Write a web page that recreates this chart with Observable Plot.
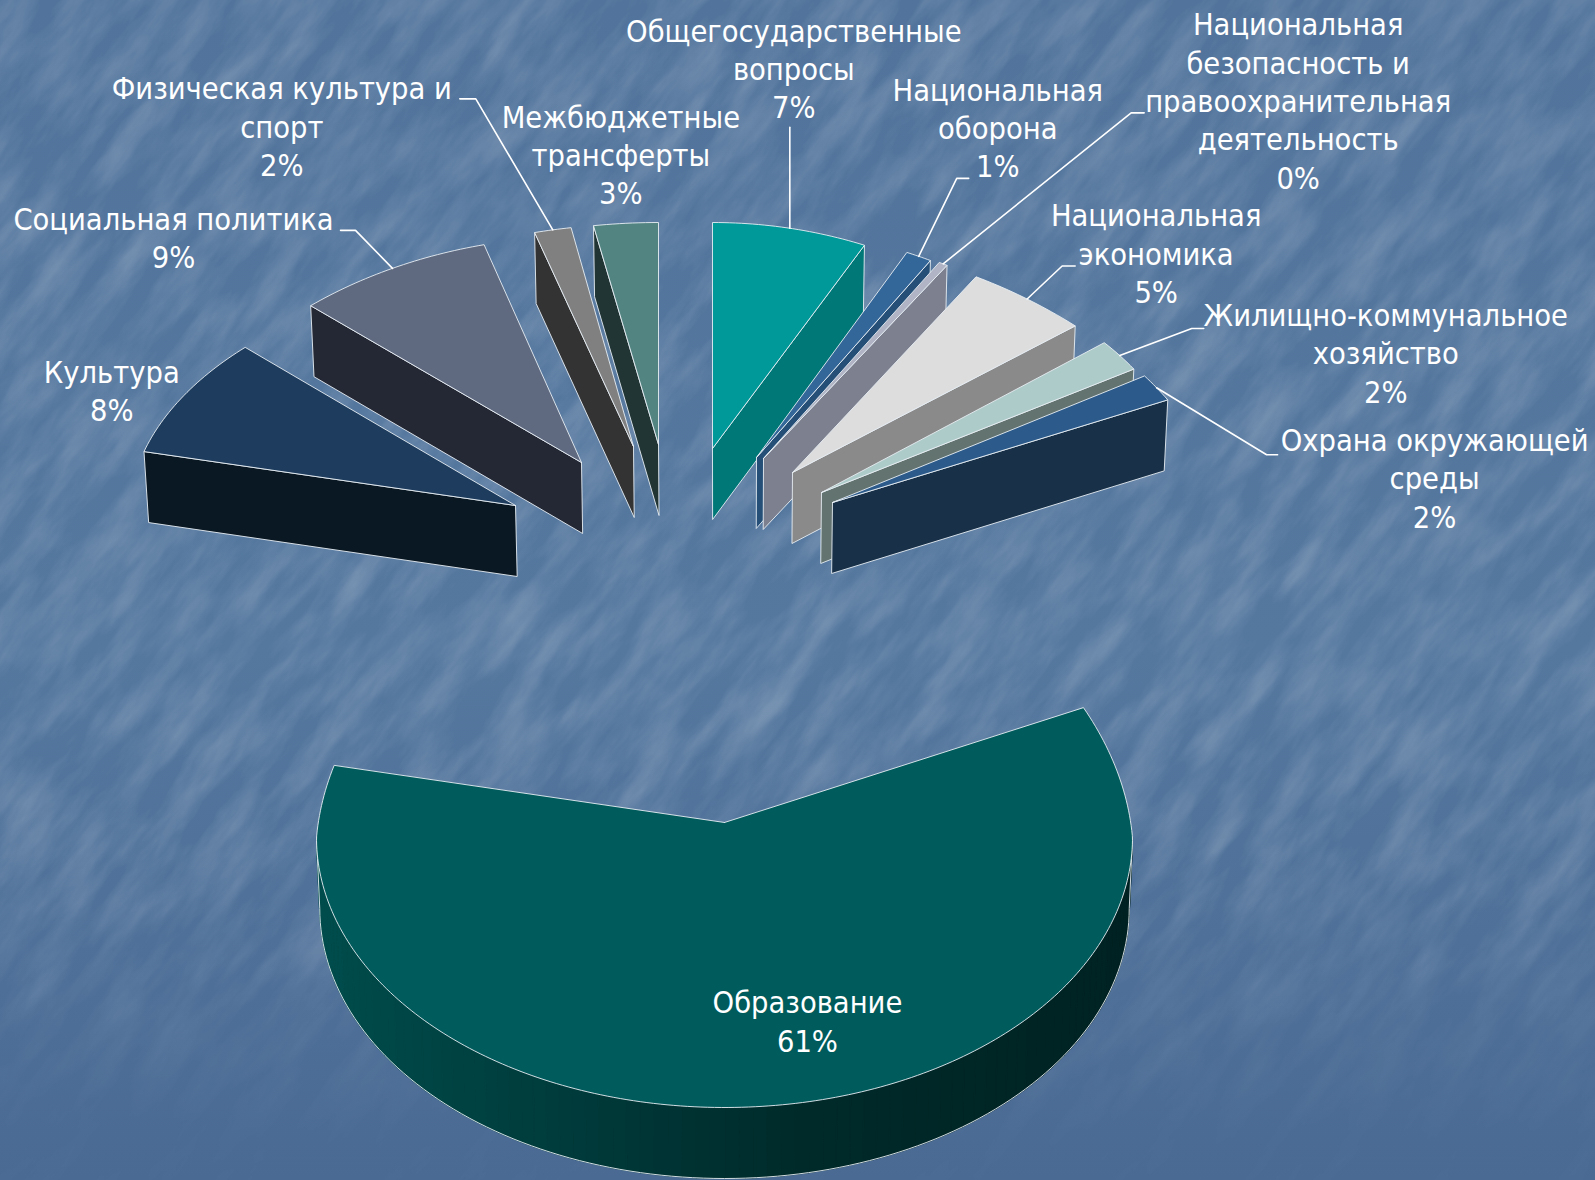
<!DOCTYPE html>
<html><head><meta charset="utf-8">
<style>html,body{margin:0;padding:0;background:#537599;overflow:hidden}#wrap{position:relative;width:1595px;height:1180px;overflow:hidden}#bg{position:absolute;left:0;top:0}#chart{position:absolute;left:0;top:0}#chart svg{background:transparent!important;display:block}</style>
<script src="https://cdn.jsdelivr.net/npm/d3@7"></script>
<script src="https://cdn.jsdelivr.net/npm/@observablehq/plot@0.6"></script>
</head><body>
<div id="wrap">
<svg id="bg" width="1595" height="1180">
<defs>
<linearGradient id="g" x1="0" y1="0" x2="0" y2="1"><stop offset="0" stop-color="#52749c"/><stop offset=".55" stop-color="#55789f"/><stop offset="1" stop-color="#4a6a94"/></linearGradient>
<linearGradient id="fade" x1="0" y1="0" x2="0" y2="1"><stop offset="0" stop-color="#fff"/><stop offset=".72" stop-color="#fff"/><stop offset=".96" stop-color="#111"/></linearGradient>
<mask id="m"><rect width="1595" height="1180" fill="url(#fade)"/></mask>
<filter id="tex" x="0" y="0" width="100%" height="100%"><feTurbulence type="fractalNoise" baseFrequency="0.011 0.04" numOctaves="5" seed="11"/><feColorMatrix type="matrix" values="0 0 0 0 1  0 0 0 0 1  0 0 0 0 1  1.1 1.1 0 0 -0.82"/></filter>
</defs>
<rect width="1595" height="1180" fill="url(#g)"/>
<g mask="url(#m)"><g transform="rotate(-52 797 590)"><rect x="-500" y="-500" width="2600" height="2200" filter="url(#tex)" opacity=".2"/></g></g>
</svg>
<div id="chart"></div>
</div>
<script>
// Data: budget shares, clockwise from 12 o'clock
const categories = ["Общегосударственные\nвопросы","Национальная\nоборона","Национальная\nбезопасность и\nправоохранительная\nдеятельность","Национальная\nэкономика","Жилищно-коммунальное\nхозяйство","Охрана окружающей\nсреды","Образование","Культура","Социальная политика","Физическая культура и\nспорт","Межбюджетные\nтрансферты"];
const shares = [7.2,1.2,0.4,5.2,2.2,1.8,60.8,8.4,8.5,1.6,2.7];

// Exploded-pie layout
const apexX = [712,756,763,792,821,832,724,515,581,633,658];
const apexY = [448,457,458,472,492,502,822,505,462,446,444];
const ellipseDrop = [0,0,0,0,0,0,15,0,0,0,0];
const radiusX = [382,378,382,419,367,387,408,386,404,410,385];
const perspective = [0.1,0.1,0.1,0.195,0,0.1,0.065,0.04,0.1,0.1,0];
const radiusYFar = [226,228,227,230,235,241,305,228,226,222,222];
const radiusYNear = 270;
const topColors = ["#009999","#336699","#b0b4c4","#dddddd","#adcbc8","#2c5b8b","#005c5c","#1e3d5e","#5f697f","#808080","#528481"];
const wallColors = ["#007878","#254f77","#7d808f","#8a8a8a","#627370","#183149","#004040","#0a1823","#242835","#333333","#213535"];
const depth = 71, vanishX = 724, bottomScale = 0.992;
const drawOrder = [0,1,2,3,4,5,10,9,8,7];
const mainSlice = 6;

// Label placement relative to each slice's outer midpoint
const labelOffsets = [[4,-196],[79,-165],[355,-238],[129,-82],[266,-39],[278,54],[42,-102],[-72,-22],[-219,-48],[-271,-140],[-5,-105]];
const leaderOffsets = [[[0,-101]],[[38,-78],[50,-78]],[[188,-151],[201,-151]],[[35,-33],[48,-33]],[[72,-27],[84,-27]],[[110,67],[121,67]],null,null,[[-37,-38],[-52,-38]],[[-77,-131],[-93,-131]],null];

const total = d3.sum(shares);
let acc = 0;
const spans = shares.map(v => { const a = acc; acc += v; return [a/total*2*Math.PI, acc/total*2*Math.PI]; });

function rimPoint(i, t) {
  const s = Math.sin(t), c = Math.cos(t);
  const rx = radiusX[i]*(1 - perspective[i]*Math.max(c,0));
  const ry = c > 0 ? radiusYFar[i] : radiusYNear;
  return [apexX[i] + rx*s, apexY[i] + ellipseDrop[i] - ry*c];
}
const below = ([x,y]) => [vanishX + (x-vanishX)*bottomScale, y+depth];
function arc(i, a, b, n) { return d3.range(n+1).map(k => rimPoint(i, a + (b-a)*k/n)); }

const polys = [];
let pid = 0;
function addPoly(list, pts, fill) {
  const id = pid++;
  [...pts, pts[0]].forEach(([x,y]) => list.push({id, x, y, fill}));
}
function sliceFace(i) {
  const [a,b] = spans[i];
  return [[apexX[i],apexY[i]], ...arc(i,a,b,Math.max(8,Math.round((b-a)*60)))];
}
for (const i of drawOrder) {
  const [a,b] = spans[i];
  const right = a < Math.PI;
  const edge = rimPoint(i, right ? b : a), ap = [apexX[i],apexY[i]];
  addPoly(polys, [ap, edge, below(edge), below(ap)], wallColors[i]);
  addPoly(polys, sliceFace(i), topColors[i]);
}
// Main slice: outer rim, shaded along its length
const rimFill = [], rimEdge = [], mainTop = [];
const rimShade = d3.scaleLinear().domain([320,800,1130]).range(["#004c4c","#002a2a","#002222"]);
const rimN = 90, rimA = Math.PI/2, rimB = Math.PI*1.5;
for (let k = 0; k < rimN; k++) {
  const p = rimPoint(mainSlice, rimA + (rimB-rimA)*k/rimN), q = rimPoint(mainSlice, rimA + (rimB-rimA)*(k+1)/rimN);
  addPoly(rimFill, [p,q,below(q),below(p)], rimShade((p[0]+q[0])/2));
}
const rimBottom = arc(mainSlice, rimA, rimB, 120).map(below);
[rimPoint(mainSlice, rimA), ...rimBottom, rimPoint(mainSlice, rimB)].forEach(([x,y]) => rimEdge.push({x,y}));
addPoly(mainTop, sliceFace(mainSlice), topColors[mainSlice]);

// Labels and leader lines
const anchors = spans.map(([a,b],i) => rimPoint(i,(a+b)/2));
const labels = categories.map((c,i) => ({
  text: c + "\n" + Math.round(shares[i]) + "%",
  x: anchors[i][0] + labelOffsets[i][0],
  y: anchors[i][1] + labelOffsets[i][1] - 18
}));
const leaders = [];
leaderOffsets.forEach((l,i) => {
  if (!l) return;
  [[0,0],...l].forEach(([dx,dy]) => leaders.push({id:i, x:anchors[i][0]+dx, y:anchors[i][1]+dy}));
});

const chartSvg = Plot.plot({
  width:1595, height:1180, margin:0,
  x:{domain:[0,1595], range:[0,1595], axis:null},
  y:{domain:[0,1180], range:[0,1180], axis:null},
  color:{type:"identity"},
  style:{background:"transparent"},
  marks:[
    Plot.line(polys,{x:"x",y:"y",z:"id",fill:"fill",stroke:"#e8eef4",strokeWidth:0.9,strokeLinejoin:"miter"}),
    Plot.line(rimFill,{x:"x",y:"y",z:"id",fill:"fill",stroke:"fill",strokeWidth:1.2}),
    Plot.line(rimEdge,{x:"x",y:"y",stroke:"#e8eef4",strokeWidth:0.9}),
    Plot.line(mainTop,{x:"x",y:"y",z:"id",fill:"fill",stroke:"#e8eef4",strokeWidth:0.9,strokeLinejoin:"miter"}),
    Plot.line(leaders,{x:"x",y:"y",z:"id",stroke:"#ffffff",strokeWidth:1.6,strokeLinejoin:"miter"}),
    Plot.text(labels,{x:"x",y:"y",text:"text",fill:"#ffffff",fontSize:30.5,lineHeight:1.26,lineAnchor:"top",textAnchor:"middle",fontFamily:"'DejaVu Sans Condensed','DejaVu Sans',sans-serif"})
  ]
});
document.getElementById("chart").appendChild(chartSvg);
</script>
</body></html>
